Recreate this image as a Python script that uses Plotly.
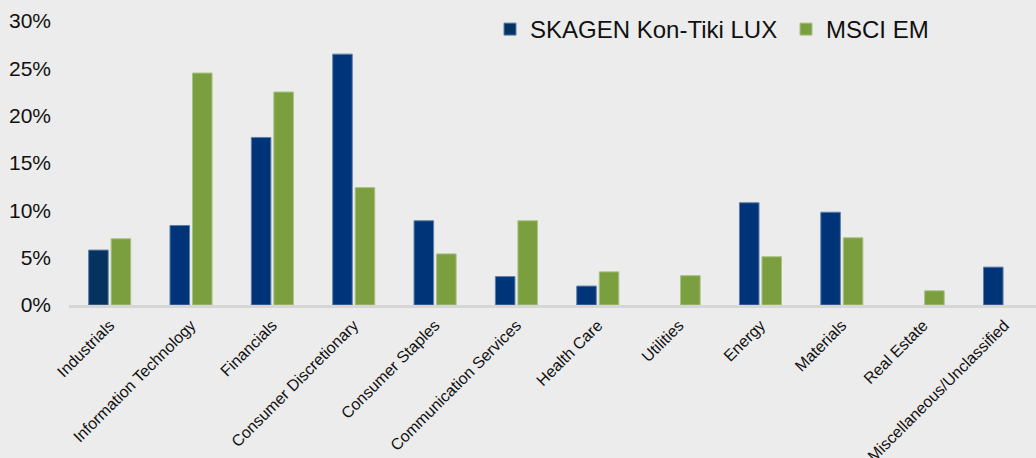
import plotly.graph_objects as go

categories = ["Industrials", "Information Technology", "Financials", "Consumer Discretionary",
              "Consumer Staples", "Communication Services", "Health Care", "Utilities",
              "Energy", "Materials", "Real Estate", "Miscellaneous/Unclassified"]
skagen = [5.8, 8.4, 17.7, 26.5, 8.9, 3.0, 2.0, None, 10.8, 9.8, None, 4.0]
msci = [7.0, 24.5, 22.5, 12.4, 5.4, 8.9, 3.5, 3.1, 5.1, 7.1, 1.5, None]
ytick_vals = [0, 5, 10, 15, 20, 25, 30]
ytick_text = ["0%", "5%", "10%", "15%", "20%", "25%", "30%"]

BLUE = "#003478"
GREEN = "#7b9e3f"
BG = "#ececec"
FONT = "Liberation Sans, Arial, sans-serif"

blue_colors = ["#05325f"] + [BLUE] * (len(categories) - 1)

fig = go.Figure()
fig.add_trace(go.Bar(
    x=categories, y=skagen, name="SKAGEN Kon-Tiki LUX",
    marker=dict(color=blue_colors, line=dict(color="#5f7fa8", width=1)),
))
fig.add_trace(go.Bar(
    x=categories, y=msci, name="MSCI EM",
    marker=dict(color=GREEN, line=dict(color="#a9c285", width=1)),
))

W, H = 1036, 458
ML, MR, MT, MB = 69, 0, 21, 153
step = 81.35
plot_w = W - ML - MR
plot_h = H - MT - MB
x_end = -0.5 + plot_w / step

fig.update_layout(
    width=W, height=H,
    margin=dict(l=ML, r=MR, t=MT, b=MB, autoexpand=False),
    paper_bgcolor=BG, plot_bgcolor=BG,
    font=dict(family=FONT, color="#111111"),
    barmode="group", bargap=0.447, bargroupgap=0.13,
    showlegend=True,
    legend=dict(
        orientation="h", x=(490 - ML) / plot_w, xanchor="left",
        y=1 - (29.5 - MT) / plot_h, yanchor="middle",
        font=dict(size=24, family=FONT, color="#111111"),
        bgcolor="rgba(0,0,0,0)", itemwidth=30,
        entrywidth=251, entrywidthmode="pixels",
        itemclick=False, itemdoubleclick=False,
    ),
    xaxis=dict(
        range=[-0.5, x_end], tickangle=-45,
        tickfont=dict(size=16, family=FONT, color="#111111"),
        showline=True, linecolor="#d6d6d6", linewidth=2.5,
        showgrid=False, zeroline=False, ticks="", fixedrange=True,
        ticklabelstandoff=2,
    ),
    yaxis=dict(
        range=[0, 30], tickvals=ytick_vals, ticktext=ytick_text,
        tickfont=dict(size=21, family=FONT, color="#111111"),
        showgrid=False, zeroline=False, showline=False, ticks="",
        ticklabelstandoff=17, fixedrange=True,
    ),
)

fig.write_html(
    "out.html",
    config={"displayModeBar": False},
    post_script="document.body.style.margin='0';document.body.style.overflow='hidden';",
)
